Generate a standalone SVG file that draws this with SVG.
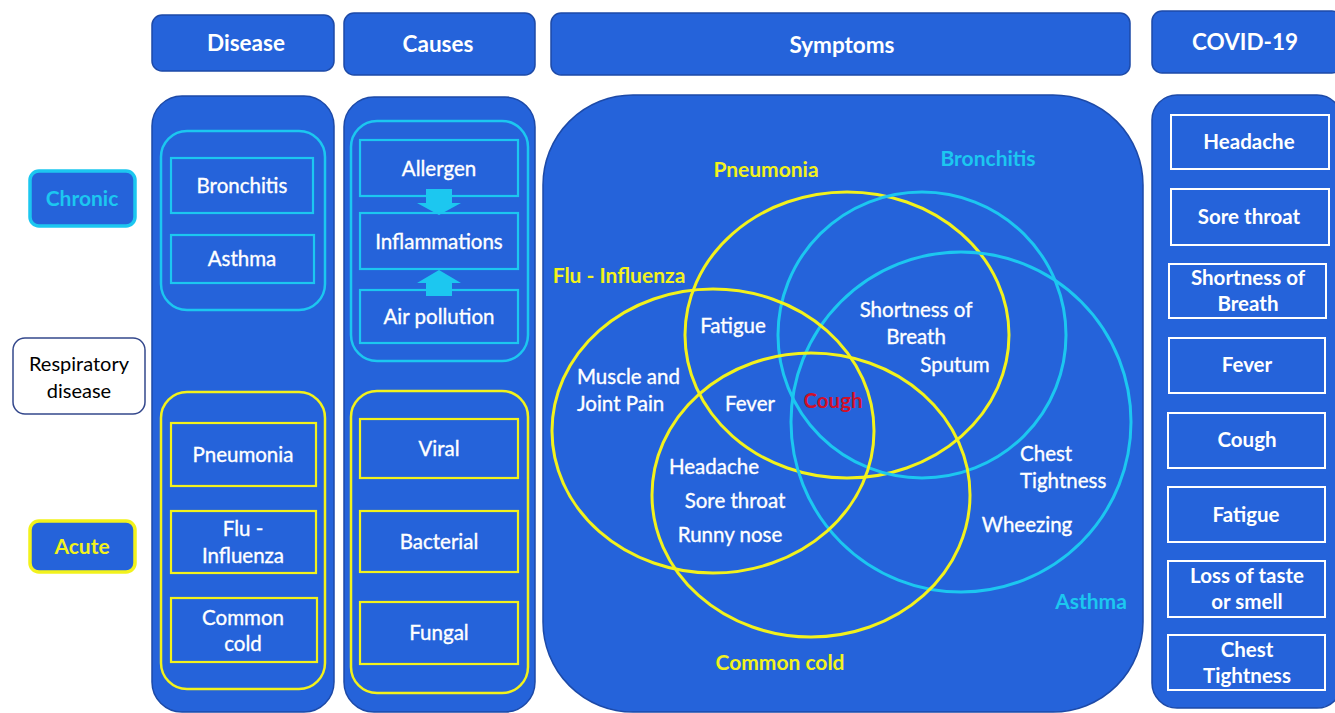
<svg xmlns="http://www.w3.org/2000/svg" width="1335" height="713" viewBox="0 0 1335 713">
<style>
text{font-family:Lato,"Open Sans","Liberation Sans",sans-serif;text-anchor:middle;}
.hdr{fill:#2563da;stroke:#1d4aa8;stroke-width:1.5;}
.pnl{fill:#2563da;stroke:#1d4aa8;stroke-width:1.5;}
.ht{fill:#fff;font-size:22.5px;font-weight:bold;}
.grpc{fill:none;stroke:#1cc7f0;stroke-width:2.5;}
.grpy{fill:none;stroke:#f2f21c;stroke-width:2.5;}
.bc{fill:none;stroke:#1cc7f0;stroke-width:2.2;}
.by{fill:none;stroke:#f2f21c;stroke-width:2.2;}
.bw{fill:none;stroke:#fff;stroke-width:2;}
.t{fill:#fff;font-size:20.5px;stroke:#fff;stroke-width:0.35;}
.tb{fill:#fff;font-size:20.5px;font-weight:bold;}
.vc{fill:none;stroke:#1cc7f0;stroke-width:3;}
.vy{fill:none;stroke:#f2f21c;stroke-width:3;}
.ly{fill:#f2f21c;font-size:21px;font-weight:bold;}
.lc{fill:#1cc7f0;font-size:21px;font-weight:bold;}
</style>
<rect width="1335" height="713" fill="#fff"/>

<!-- headers -->
<g id="hdr-disease"><rect class="hdr" x="152" y="15" width="182" height="56" rx="10"/><text class="ht" x="246" y="51">Disease</text></g>
<g id="hdr-causes"><rect class="hdr" x="344" y="13" width="191" height="62" rx="10"/><text class="ht" x="438" y="52">Causes</text></g>
<g id="hdr-symptoms"><rect class="hdr" x="551" y="13" width="579" height="62" rx="10"/><text class="ht" x="842" y="53">Symptoms</text></g>
<g id="hdr-covid"><rect class="hdr" x="1152" y="11" width="190" height="62" rx="10"/><text class="ht" x="1245" y="50">COVID-19</text></g>

<!-- left labels -->
<g id="chronic"><rect x="30" y="171" width="105" height="55" rx="9" fill="#2563da" stroke="#1cc7f0" stroke-width="3.5"/><text class="lc" x="82" y="206">Chronic</text></g>
<g id="respiratory"><rect x="13" y="338" width="132" height="76" rx="12" fill="#fff" stroke="#34488c" stroke-width="1.5"/><text x="79" y="371" font-size="20" fill="#000">Respiratory</text><text x="79" y="398" font-size="20" fill="#000">disease</text></g>
<g id="acute"><rect x="30" y="521" width="105" height="51" rx="9" fill="#2563da" stroke="#f2f21c" stroke-width="3.5"/><text class="ly" x="82" y="554">Acute</text></g>

<!-- disease panel -->
<g id="disease-panel">
<rect class="pnl" x="152" y="96" width="182" height="616" rx="30"/>
<rect class="grpc" x="161" y="131" width="164" height="179" rx="26"/>
<rect class="grpy" x="161" y="392" width="164" height="297" rx="26"/>
</g>
<g id="d-bronchitis"><rect class="bc" x="171" y="158" width="142" height="55"/><text class="t" x="242" y="193">Bronchitis</text></g>
<g id="d-asthma"><rect class="bc" x="171" y="235" width="143" height="48"/><text class="t" x="242" y="266">Asthma</text></g>
<g id="d-pneumonia"><rect class="by" x="171" y="423" width="145" height="63"/><text class="t" x="243" y="462">Pneumonia</text></g>
<g id="d-flu"><rect class="by" x="171" y="511" width="145" height="62"/><text class="t" x="243" y="536">Flu -</text><text class="t" x="243" y="563">Influenza</text></g>
<g id="d-cold"><rect class="by" x="171" y="598" width="146" height="64"/><text class="t" x="243" y="625">Common</text><text class="t" x="243" y="651">cold</text></g>

<!-- causes panel -->
<g id="causes-panel">
<rect class="pnl" x="344" y="97" width="191" height="615" rx="30"/>
<rect class="grpc" x="351" y="121" width="177" height="240" rx="26"/>
<rect class="grpy" x="351" y="391" width="177" height="302" rx="26"/>
</g>
<g id="c-allergen"><rect class="bc" x="360" y="140" width="158" height="56"/><text class="t" x="439" y="176">Allergen</text></g>
<g id="c-inflammations"><rect class="bc" x="360" y="213" width="158" height="56"/><text class="t" x="439" y="249">Inflammations</text></g>
<g id="c-airpollution"><rect class="bc" x="360" y="290" width="158" height="53"/><text class="t" x="439" y="324">Air pollution</text></g>
<g id="c-viral"><rect class="by" x="360" y="419" width="158" height="59"/><text class="t" x="439" y="456">Viral</text></g>
<g id="c-bacterial"><rect class="by" x="360" y="511" width="158" height="61"/><text class="t" x="439" y="549">Bacterial</text></g>
<g id="c-fungal"><rect class="by" x="360" y="602" width="158" height="62"/><text class="t" x="439" y="640">Fungal</text></g>

<g id="connectors">
<polygon points="426,189 452,189 452,203 461,203 439,215 417,203 426,203" fill="#1cc7f0"/>
<polygon points="439,270 461,283 452,283 452,296 426,296 426,283 417,283" fill="#1cc7f0"/>
</g>

<!-- symptoms panel -->
<g id="symptoms-panel">
<rect class="pnl" x="543" y="95" width="600" height="617" rx="90"/>
</g>
<g id="venn">
<ellipse id="v-pneumonia" class="vy" cx="847" cy="335" rx="162" ry="143"/>
<ellipse id="v-bronchitis" class="vc" cx="922" cy="335" rx="144" ry="143"/>
<ellipse id="v-asthma" class="vc" cx="961" cy="422" rx="170" ry="170"/>
<ellipse id="v-flu" class="vy" cx="713" cy="431" rx="161" ry="142"/>
<ellipse id="v-cold" class="vy" cx="811" cy="495" rx="159" ry="142"/>
</g>
<g id="venn-labels">
<text class="ly" x="766" y="177">Pneumonia</text>
<text class="lc" x="988" y="166">Bronchitis</text>
<text class="ly" x="619" y="283">Flu - Influenza</text>
<text class="lc" x="1091" y="609">Asthma</text>
<text class="ly" x="780" y="670">Common cold</text>
<text class="t" x="733" y="333">Fatigue</text>
<text class="t" x="916" y="317">Shortness of</text>
<text class="t" x="916" y="344">Breath</text>
<text class="t" x="955" y="372">Sputum</text>
<text class="t" x="577" y="384" style="text-anchor:start">Muscle and</text>
<text class="t" x="577" y="411" style="text-anchor:start">Joint Pain</text>
<text class="t" x="750" y="411">Fever</text>
<text x="833" y="408" font-size="20.5" font-weight="bold" fill="#d0102a">Cough</text>
<text class="t" x="714" y="474">Headache</text>
<text class="t" x="735" y="508">Sore throat</text>
<text class="t" x="730" y="542">Runny nose</text>
<text class="t" x="1020" y="461" style="text-anchor:start">Chest</text>
<text class="t" x="1020" y="488" style="text-anchor:start">Tightness</text>
<text class="t" x="1027" y="532">Wheezing</text>
</g>

<!-- covid panel -->
<g id="covid-panel"><rect class="pnl" x="1152" y="95" width="190" height="613" rx="25"/></g>
<g id="cv-headache"><rect class="bw" x="1171" y="115" width="158" height="54"/><text class="tb" x="1249" y="149">Headache</text></g>
<g id="cv-sore"><rect class="bw" x="1171" y="189" width="158" height="56"/><text class="tb" x="1249" y="224">Sore throat</text></g>
<g id="cv-sob"><rect class="bw" x="1169" y="264" width="157" height="54"/><text class="tb" x="1248" y="285">Shortness of</text><text class="tb" x="1248" y="311">Breath</text></g>
<g id="cv-fever"><rect class="bw" x="1169" y="338" width="156" height="55"/><text class="tb" x="1247" y="372">Fever</text></g>
<g id="cv-cough"><rect class="bw" x="1168" y="413" width="157" height="55"/><text class="tb" x="1247" y="447">Cough</text></g>
<g id="cv-fatigue"><rect class="bw" x="1168" y="487" width="157" height="55"/><text class="tb" x="1246" y="522">Fatigue</text></g>
<g id="cv-loss"><rect class="bw" x="1168" y="561" width="157" height="56"/><text class="tb" x="1247" y="583">Loss of taste</text><text class="tb" x="1247" y="609">or smell</text></g>
<g id="cv-chest"><rect class="bw" x="1168" y="635" width="157" height="55"/><text class="tb" x="1247" y="657">Chest</text><text class="tb" x="1247" y="683">Tightness</text></g>
</svg>
